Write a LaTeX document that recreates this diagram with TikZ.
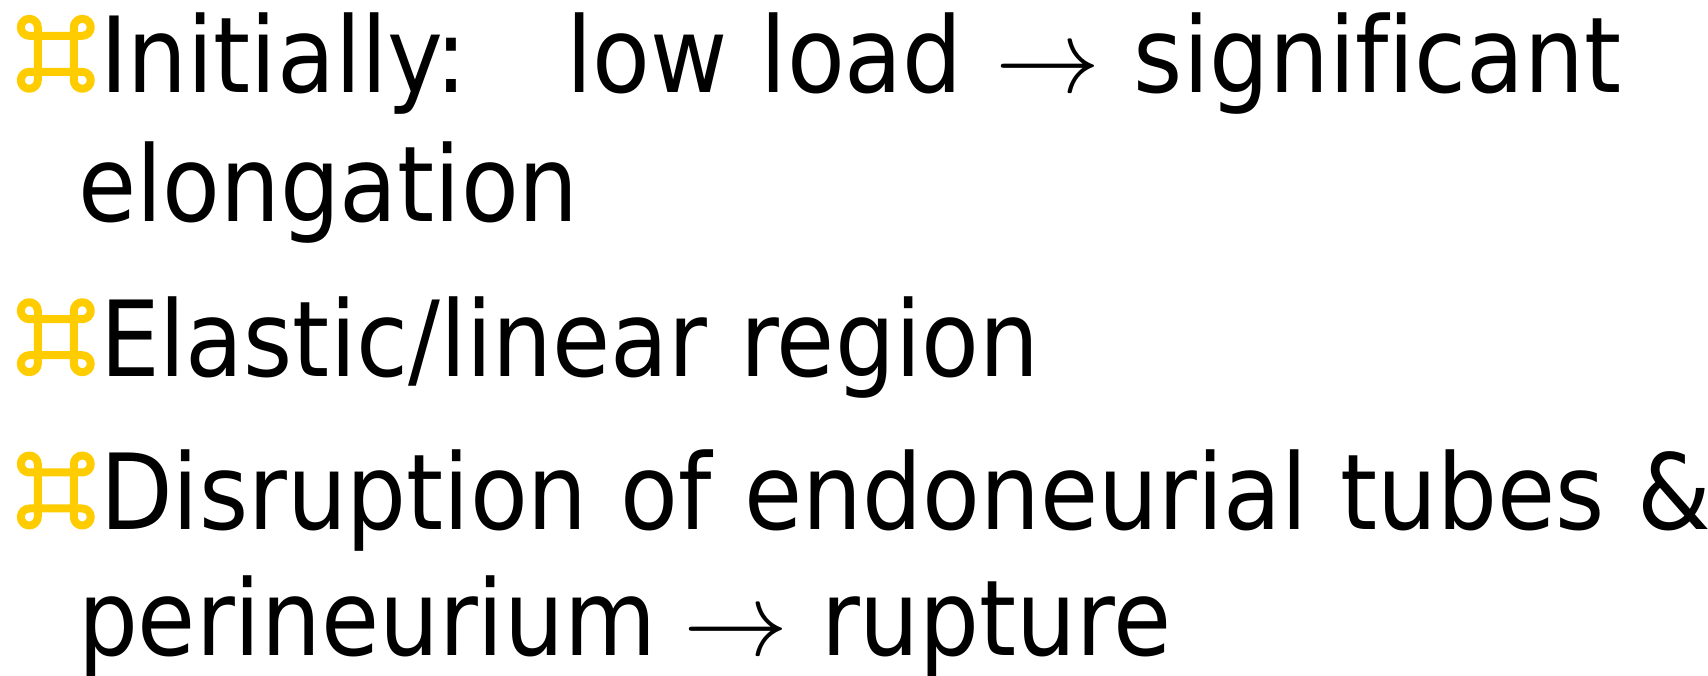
\documentclass[tikz,border=0pt]{standalone}
\usepackage{graphicx}
\usepackage{fontspec}
\setmainfont{DejaVu Sans Condensed}[Ligatures=NoCommon, WordSpace=1.1]
\definecolor{bulletgold}{RGB}{255,204,0}
\tikzset{
  textline/.style={anchor=base west, inner sep=0pt, outer sep=0pt, font=\fontsize{105}{127}\selectfont},
  cmdmark/.style={draw=bulletgold, line width=8pt, line join=round}
}
\newcommand\bigarrow{\scalebox{10.5}{\normalsize$\rightarrow$}}
\newcommand\cmdbullet[2]{% centre x, centre y ; a=18, r=8.5
  \draw[cmdmark] (#1+18,#2+26.5)
    arc[start angle=180, end angle=-90, radius=8.5]
    -- (#1-26.5,#2+18)
    arc[start angle=-90, end angle=-360, radius=8.5]
    -- (#1-18,#2-26.5)
    arc[start angle=0, end angle=-270, radius=8.5]
    -- (#1+26.5,#2-18)
    arc[start angle=90, end angle=-180, radius=8.5]
    -- cycle;}
\begin{document}
\begin{tikzpicture}[x=1pt,y=1pt]
\useasboundingbox (0,0) rectangle (1708,676);
\cmdbullet{55.8}{622.2}
\cmdbullet{55.8}{338.8}
\cmdbullet{55.8}{185.5}
\node[textline] (l1) at (100,583.3) {Initially:\ \ \ low load \bigarrow\ significant};
\node[textline] (l2) at (78,454) {elongation};
\node[textline] (l3) at (100,299.3) {Elastic/linear region};
\node[textline] (l4) at (100,146.7) {Disruption of endoneurial tubes \&};
\node[textline] (l5) at (78,20) {perineurium\kern-6pt\ \bigarrow\ rupture};
\end{tikzpicture}
\end{document}
